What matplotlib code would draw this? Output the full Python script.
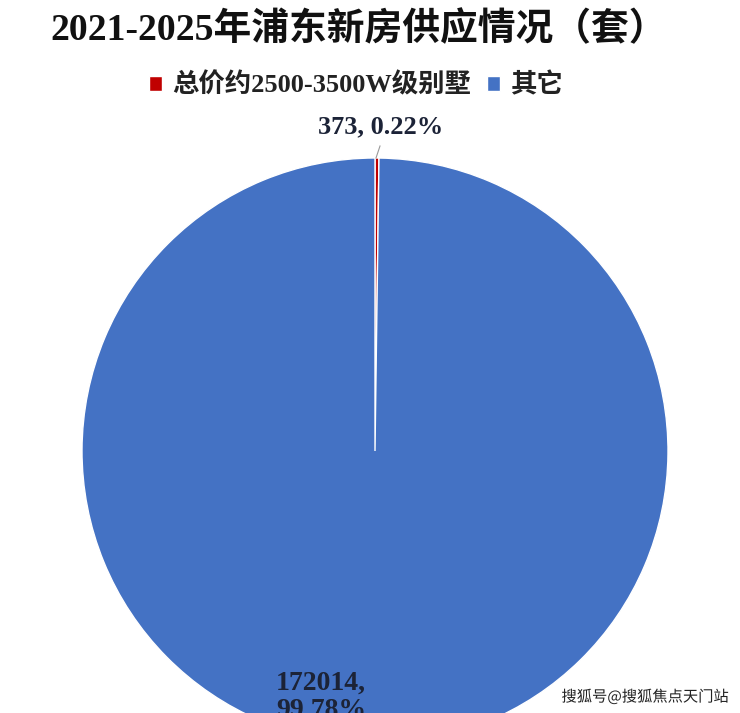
import matplotlib.pyplot as plt
import matplotlib.patheffects as pe

plt.rcParams['font.family'] = ['Liberation Serif', 'Noto Sans CJK SC']

title = '2021-2025年浦东新房供应情况（套）'
categories = ['总价约2500-3500W级别墅', '其它']
counts = [373, 172014]
shares = ['0.22%', '99.78%']
colors = ['#C00000', '#4472C4']

W, H = 740, 713
fig = plt.figure(figsize=(W / 100, H / 100), dpi=100)
ax = fig.add_axes([0, 0, 1, 1])

# pie centre / radius in pixel units (y measured from bottom)
cx, cy, r = 375, H - 451, 293
wedges, _ = ax.pie(counts, colors=colors, startangle=90, counterclock=False,
                   center=(cx, cy), radius=r,
                   wedgeprops=dict(edgecolor='white', linewidth=1))
ax.set_xlim(0, W)
ax.set_ylim(0, H)
ax.set_aspect('equal')
ax.axis('off')

navy = '#1c2337'
# small slice label with leader line
ax.plot([376, 380], [H - 158, H - 146], color='#999999', lw=0.8)
ax.text(381, H - 127, f'{counts[0]}, {shares[0]}', ha='center', va='center',
        fontsize=19, fontweight='bold', color=navy)
# big slice label (cut by the bottom edge like the reference)
ax.text(321, H - 697, f'{counts[1]},\n{shares[1]}', ha='center', va='center',
        fontsize=20, fontweight='bold', color=navy, linespacing=1.15)

fig.text(359 / W, 1 - 30 / H, title, ha='center', va='center',
         fontsize=27.2, fontweight='black', color='#111111')

leg = ax.legend(wedges, categories, loc='center', bbox_to_anchor=(356 / W, 1 - 85 / H),
                ncol=2, frameon=False, fontsize=19, handlelength=0.5, handleheight=0.5,
                handletextpad=0.4, columnspacing=0.6)
for t in leg.get_texts():
    t.set_fontweight('bold')
    t.set_color('#222222')

fig.text(645 / W, 1 - 697 / H, '搜狐号@搜狐焦点天门站', ha='center', va='center',
         fontsize=11, color='#222222', family='Noto Sans CJK SC',
         path_effects=[pe.withStroke(linewidth=2, foreground='white')])

fig.savefig('out.png', dpi=100)
